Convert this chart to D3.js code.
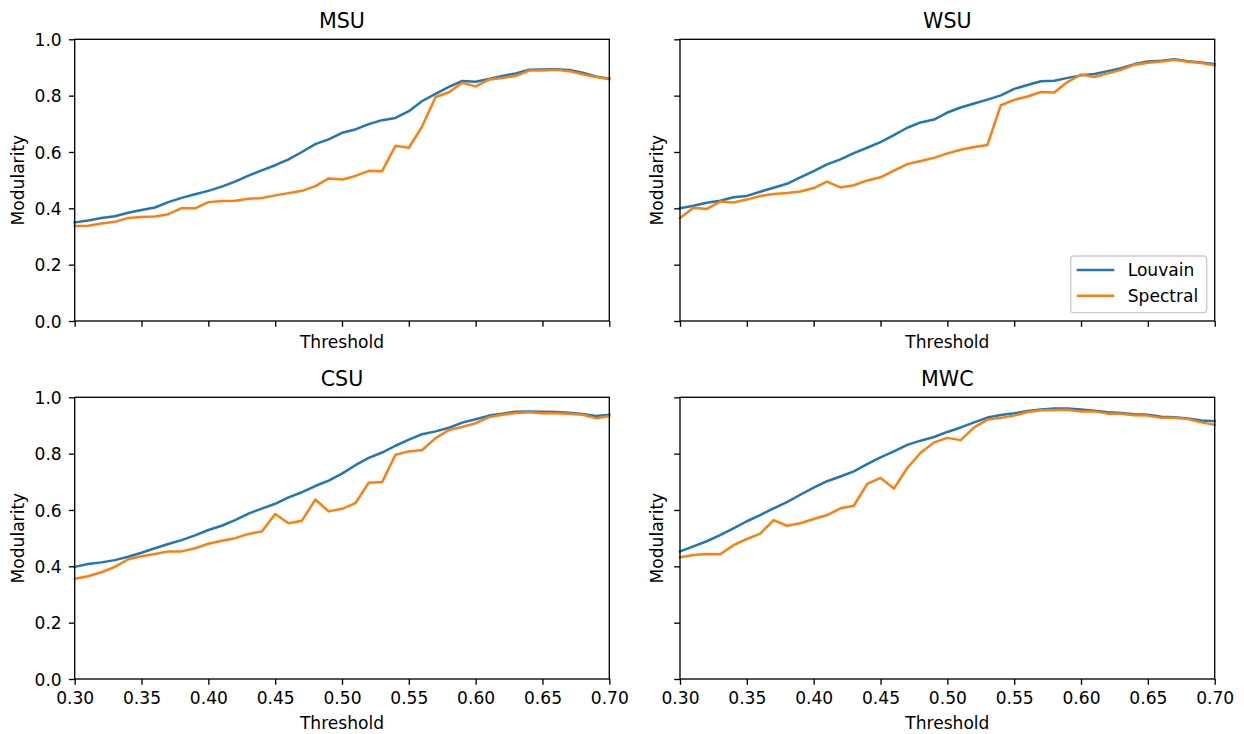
<!DOCTYPE html>
<html>
<head>
<meta charset="utf-8">
<script src="https://cdn.jsdelivr.net/npm/d3@7"></script>
<style>
  html, body { margin: 0; padding: 0; background: #fff; }
  svg { display: block; font-family: "DejaVu Sans", sans-serif; }
</style>
</head>
<body>
<svg id="chart" width="1244" height="734"></svg>
<script>
// Threshold values along the x axis
const thresholds = [0.30,0.31,0.32,0.33,0.34,0.35,0.36,0.37,0.38,0.39,0.40,
  0.41,0.42,0.43,0.44,0.45,0.46,0.47,0.48,0.49,0.50,
  0.51,0.52,0.53,0.54,0.55,0.56,0.57,0.58,0.59,0.60,
  0.61,0.62,0.63,0.64,0.65,0.66,0.67,0.68,0.69,0.70];

const panelNames = ["MSU", "WSU", "CSU", "MWC"];
const methodNames = ["Louvain", "Spectral"];

// Modularity per threshold, one array per network and method
const msuLouvain = [0.350,0.357,0.366,0.372,0.384,0.394,0.403,0.422,0.437,0.450,0.462,0.477,0.495,0.516,0.535,0.553,0.574,0.600,0.628,0.645,0.668,
  0.680,0.699,0.713,0.721,0.745,0.781,0.806,0.831,0.852,0.849,0.859,0.870,0.879,0.892,0.893,0.894,0.891,0.881,0.868,0.860];
const msuSpectral = [0.337,0.338,0.346,0.352,0.366,0.369,0.371,0.379,0.401,0.400,0.422,0.426,0.427,0.434,0.437,0.446,0.454,0.462,0.479,0.506,0.502,
  0.515,0.533,0.532,0.622,0.615,0.691,0.795,0.812,0.846,0.833,0.857,0.863,0.870,0.889,0.889,0.892,0.887,0.876,0.866,0.859];

const wsuLouvain = [0.400,0.409,0.420,0.427,0.439,0.444,0.459,0.473,0.487,0.510,0.532,0.556,0.574,0.596,0.615,0.635,0.660,0.686,0.705,0.715,0.740,
  0.758,0.772,0.786,0.801,0.824,0.838,0.851,0.853,0.863,0.872,0.877,0.887,0.897,0.912,0.921,0.924,0.929,0.922,0.918,0.912];
const wsuSpectral = [0.366,0.402,0.398,0.424,0.421,0.431,0.444,0.451,0.454,0.460,0.472,0.495,0.474,0.482,0.499,0.510,0.534,0.557,0.568,0.579,0.595,
  0.608,0.618,0.625,0.766,0.785,0.797,0.813,0.811,0.849,0.875,0.866,0.879,0.892,0.910,0.917,0.921,0.927,0.920,0.916,0.908];

const csuLouvain = [0.398,0.408,0.414,0.422,0.434,0.448,0.464,0.479,0.493,0.510,0.529,0.544,0.564,0.587,0.605,0.622,0.645,0.663,0.685,0.704,0.729,
  0.759,0.785,0.804,0.828,0.850,0.869,0.879,0.892,0.910,0.922,0.935,0.942,0.949,0.950,0.949,0.948,0.945,0.941,0.934,0.938];
const csuSpectral = [0.356,0.365,0.379,0.398,0.425,0.436,0.444,0.453,0.453,0.464,0.480,0.491,0.500,0.515,0.524,0.586,0.553,0.562,0.637,0.595,0.604,
  0.624,0.697,0.699,0.796,0.808,0.813,0.855,0.884,0.895,0.908,0.930,0.938,0.944,0.947,0.943,0.943,0.942,0.938,0.926,0.933];

const mwcLouvain = [0.453,0.471,0.489,0.511,0.535,0.560,0.582,0.606,0.628,0.654,0.679,0.702,0.719,0.737,0.763,0.787,0.808,0.831,0.846,0.859,0.877,
  0.893,0.911,0.928,0.937,0.943,0.951,0.957,0.960,0.960,0.957,0.952,0.947,0.944,0.940,0.938,0.931,0.929,0.925,0.918,0.915];
const mwcSpectral = [0.432,0.440,0.444,0.443,0.475,0.497,0.516,0.564,0.544,0.553,0.568,0.582,0.606,0.615,0.693,0.714,0.676,0.749,0.803,0.840,0.856,
  0.848,0.893,0.921,0.927,0.935,0.948,0.954,0.955,0.956,0.950,0.950,0.942,0.942,0.936,0.935,0.927,0.927,0.923,0.911,0.902];

const xTicks = [0.30,0.35,0.40,0.45,0.50,0.55,0.60,0.65,0.70];
const yTicks = [0.0,0.2,0.4,0.6,0.8,1.0];

const seriesByPanel = [
  [msuLouvain, msuSpectral],
  [wsuLouvain, wsuSpectral],
  [csuLouvain, csuSpectral],
  [mwcLouvain, mwcSpectral]
];
const colors = ["#1f77b4", "#ff7f0e"];

const FONT = 17.1;
const TITLE_FONT = 20.6;
const svg = d3.select("#chart");

// Grid of axes boxes (2 x 2)
const cols = [[74.7, 609.3], [680, 1214.7]];
const rows = [[39.3, 321], [397.3, 679]];

panelNames.forEach((name, i) => {
  const r = Math.floor(i / 2), c = i % 2;
  const [x0, x1] = cols[c];
  const [y0, y1] = rows[r];
  const x = d3.scaleLinear().domain([0.3, 0.7]).range([x0, x1]);
  const y = d3.scaleLinear().domain([0, 1]).range([y1, y0]);
  const g = svg.append("g");

  // lines
  const line = d3.line().x((d, k) => x(thresholds[k])).y(d => y(d));
  seriesByPanel[i].forEach((vals, m) => {
    g.append("path")
      .datum(vals)
      .attr("d", line)
      .attr("fill", "none")
      .attr("stroke", colors[m])
      .attr("stroke-width", 2.5)
      .attr("stroke-linejoin", "round")
      .attr("stroke-linecap", "square");
  });

  // bottom axis
  const showX = r === 1;
  const gx = g.append("g")
    .attr("transform", `translate(0,${y1})`)
    .call(d3.axisBottom(x).tickValues(xTicks).tickSize(5.8).tickPadding(7)
      .tickFormat(d3.format(".2f")));
  gx.select(".domain").remove();
  gx.selectAll("line").attr("stroke", "#000").attr("stroke-width", 1.33);
  if (showX) {
    gx.selectAll("text").attr("y", 25.3).attr("dy", null)
      .attr("font-size", FONT).attr("font-family", "DejaVu Sans").attr("fill", "#000");
  } else {
    gx.selectAll("text").remove();
  }

  // left axis
  const showY = c === 0;
  const gy = g.append("g")
    .attr("transform", `translate(${x0},0)`)
    .call(d3.axisLeft(y).tickValues(yTicks).tickSize(5.8).tickPadding(7.2)
      .tickFormat(d3.format(".1f")));
  gy.select(".domain").remove();
  gy.selectAll("line").attr("stroke", "#000").attr("stroke-width", 1.33);
  if (showY) {
    gy.selectAll("text").attr("dy", "0.36em")
      .attr("font-size", FONT).attr("font-family", "DejaVu Sans").attr("fill", "#000");
  } else {
    gy.selectAll("text").remove();
  }

  // frame
  g.append("rect")
    .attr("x", x0).attr("y", y0)
    .attr("width", x1 - x0).attr("height", y1 - y0)
    .attr("fill", "none").attr("stroke", "#000").attr("stroke-width", 1.33);

  // title
  g.append("text")
    .attr("x", (x0 + x1) / 2).attr("y", y0 - 11.3)
    .attr("text-anchor", "middle")
    .attr("font-size", TITLE_FONT)
    .text(name);

  // x label
  g.append("text")
    .attr("x", (x0 + x1) / 2).attr("y", showX ? y1 + 50.3 : y1 + 27.3)
    .attr("text-anchor", "middle")
    .attr("font-size", FONT)
    .text("Threshold");

  // y label
  const ylx = showY ? 24 : x0 - 17.3;
  g.append("text")
    .attr("transform", `translate(${ylx},${(y0 + y1) / 2}) rotate(-90)`)
    .attr("text-anchor", "middle")
    .attr("font-size", FONT)
    .text("Modularity");

  // legend in the WSU panel
  if (i === 1) {
    const lg = g.append("g");
    lg.append("rect")
      .attr("x", x1 - 144).attr("y", y1 - 65)
      .attr("width", 136).attr("height", 56.7)
      .attr("rx", 3)
      .attr("fill", "#fff").attr("fill-opacity", 0.8)
      .attr("stroke", "#cccccc").attr("stroke-width", 1.33);
    methodNames.forEach((m, k) => {
      const ly = y1 - 51 + k * 25.7;
      lg.append("line")
        .attr("x1", x1 - 138).attr("x2", x1 - 100.4)
        .attr("y1", ly).attr("y2", ly)
        .attr("stroke", colors[k]).attr("stroke-width", 2.5);
      lg.append("text")
        .attr("x", x1 - 87).attr("y", ly + 6.3)
        .attr("font-size", FONT)
        .text(m);
    });
  }
});
</script>
</body>
</html>
